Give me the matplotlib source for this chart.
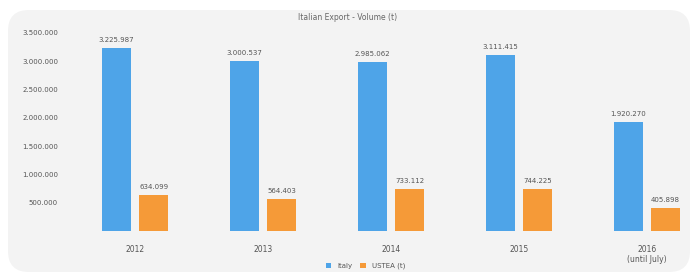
import matplotlib
matplotlib.use("Agg")
import matplotlib.pyplot as plt
from matplotlib.patches import FancyBboxPatch
from matplotlib.ticker import FuncFormatter
import numpy as np

categories = ["2012", "2013", "2014", "2015", "2016\n(until July)"]
italy = [3225987, 3000537, 2985062, 3111415, 1920270]
usa = [634099, 564403, 733112, 744225, 405898]
italy_labels = ["3.225.987", "3.000.537", "2.985.062", "3.111.415", "1.920.270"]
usa_labels = ["634.099", "564.403", "733.112", "744.225", "405.898"]
yticks = [500000, 1000000, 1500000, 2000000, 2500000, 3000000, 3500000]
title = "Italian Export - Volume (t)"
legend_labels = ["Italy", "USTEA (t)"]

W, H = 696, 273
fig = plt.figure(figsize=(W / 100, H / 100), dpi=100)
fig.patch.set_facecolor("white")

panel = FancyBboxPatch((8 / W, 1 - 272 / H), 682 / W, 262 / H,
                       boxstyle="round,pad=0,rounding_size=0.03",
                       transform=fig.transFigure, facecolor="#f3f3f3",
                       edgecolor="none", zorder=-10, mutation_aspect=W / H)
fig.patches.append(panel)

ax = fig.add_axes([65 / W, 1 - 231 / H, 625 / W, 201 / H])
ax.set_zorder(5)
ax.set_facecolor("none")
x = np.arange(len(categories))
bw = 0.225
off = 0.145
blue = "#4ea4e8"
orange = "#f59a38"
b1 = ax.bar(x - off, italy, bw, color=blue, label=legend_labels[0])
b2 = ax.bar(x + off, usa, bw, color=orange, label=legend_labels[1])

for xi, v, s in zip(x, italy, italy_labels):
    ax.text(xi - off, v + 90000, s, ha="center", va="bottom", fontsize=5, color="#555555")
for xi, v, s in zip(x, usa, usa_labels):
    ax.text(xi + off, v + 90000, s, ha="center", va="bottom", fontsize=5, color="#555555")

ax.set_xlim(-0.547, 4.336)
ax.set_ylim(0, 3550000)
ax.set_yticks(yticks)
ax.yaxis.set_major_formatter(FuncFormatter(lambda v, p: f"{int(v):,}".replace(",", ".")))
ax.set_xticks(x)
ax.set_xticklabels(categories)
ax.tick_params(axis="y", length=0, labelsize=5, labelcolor="#555555", pad=6)
ax.tick_params(axis="x", length=0, labelsize=5.5, labelcolor="#555555", pad=10)
ax.yaxis.set_tick_params(pad=5)
for s in ax.spines.values():
    s.set_visible(False)

fig.text(0.5, 1 - 17 / H, title, ha="center", va="center", fontsize=5.5, color="#666666")

leg = fig.legend(handles=[b1, b2], labels=legend_labels, loc="center",
                 bbox_to_anchor=(0.525, 1 - 266 / H), ncol=2, frameon=False,
                 fontsize=5, handlelength=0.8, handleheight=0.8, columnspacing=1.2,
                 labelcolor="#555555", borderpad=0.1)
leg.set_zorder(6)

fig.savefig("out.png", dpi=100, facecolor="white")
